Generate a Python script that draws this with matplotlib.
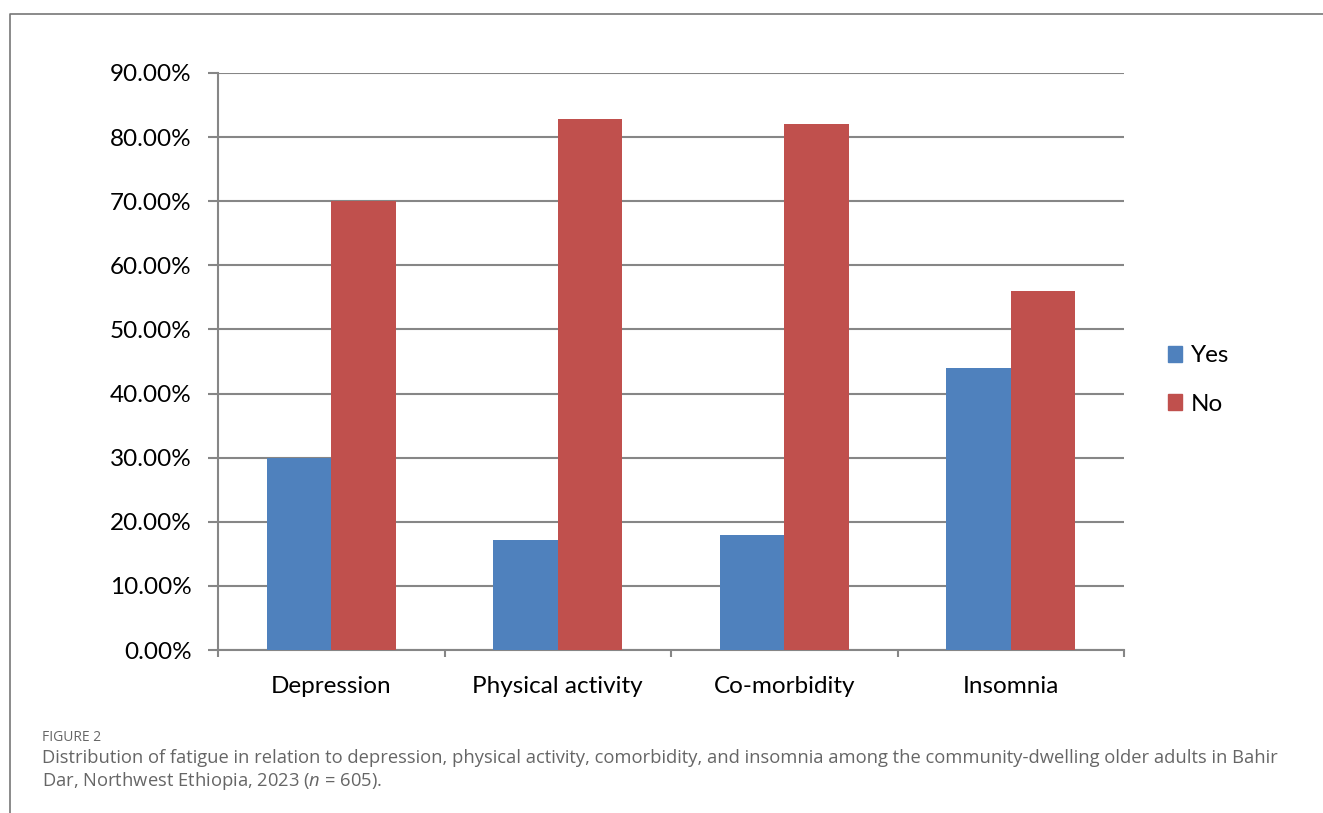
import matplotlib
matplotlib.use("Agg")
import matplotlib.pyplot as plt
from matplotlib.lines import Line2D
from matplotlib.patches import Patch
import numpy as np

# fatigue share (%) by factor
categories = ["Depression", "Physical activity", "Co-morbidity", "Insomnia"]
yes_pct = [30.0, 17.2, 17.9, 44.0]
no_pct = [70.0, 82.8, 82.1, 56.0]
series_names = ["Yes", "No"]
y_ticks = [0, 10, 20, 30, 40, 50, 60, 70, 80, 90]

caption_head = "FIGURE 2"
caption_lines = ["Distribution of fatigue in relation to depression, physical activity, comorbidity, and insomnia among the community-dwelling older adults in Bahir",
                 "Dar, Northwest Ethiopia, 2023 ($n$ = 605)."]

plt.rcParams["font.family"] = ["Lato", "DejaVu Sans"]
plt.rcParams["mathtext.fontset"] = "custom"
plt.rcParams["mathtext.it"] = "Open Sans:italic"
plt.rcParams["mathtext.rm"] = "Open Sans"

blue = "#4F81BD"
red = "#C0504D"
grid_col = "#868686"

W, H = 1323, 813
fig = plt.figure(figsize=(W / 100, H / 100), dpi=100)
ax = fig.add_axes([218 / W, (H - 650) / H, 906 / W, 577 / H])

x = np.arange(len(categories))
bw = 0.285
ax.bar(x - bw / 2, yes_pct, bw, color=blue, label=series_names[0], zorder=3)
ax.bar(x + bw / 2, no_pct, bw, color=red, label=series_names[1], zorder=3)

ax.set_xlim(-0.5, len(categories) - 0.5)
ax.set_ylim(0, 90)
ax.set_yticks(y_ticks)
ax.set_yticklabels([f"{v:.2f}%" for v in y_ticks])
ax.yaxis.grid(True, color=grid_col, linewidth=1.5, zorder=0)
ax.set_axisbelow(True)

# major ticks mark category boundaries, labels sit on minor ticks
ax.set_xticks(np.arange(len(categories) + 1) - 0.5)
ax.set_xticklabels([])
ax.set_xticks(x, minor=True)
ax.set_xticklabels(categories, minor=True)
ax.tick_params(axis="x", which="minor", length=0, pad=18.5, labelsize=17.5)
ax.tick_params(axis="x", which="major", length=5, width=1.5, color=grid_col)
ax.tick_params(axis="y", length=7, width=1.5, color=grid_col, labelsize=17.5, pad=12)

for side in ["top", "right"]:
    ax.spines[side].set_visible(False)
for side in ["left", "bottom"]:
    ax.spines[side].set_color(grid_col)
    ax.spines[side].set_linewidth(1.5)

handles = [Patch(color=blue), Patch(color=red)]
fig.legend(handles, series_names, loc="center left",
           bbox_to_anchor=(1146 / W, 1 - 380 / H), frameon=False,
           fontsize=17.5, handlelength=0.6, handleheight=0.6,
           handletextpad=0.35, labelspacing=1.12)

# outer frame
fig.add_artist(Line2D([10 / W, 10 / W, 1], [0, 1 - 14 / H, 1 - 14 / H],
                      transform=fig.transFigure, color="#777777", linewidth=1.2))

fig.text(42 / W, 1 - 737 / H, caption_head, fontsize=10, color="#666666",
         family="Open Sans", va="center")
for i, line in enumerate(caption_lines):
    fig.text(42 / W, 1 - (758 + 23 * i) / H, line, fontsize=13.2, color="#666666",
             family="Open Sans", va="center")

fig.savefig("out.png", dpi=100)
